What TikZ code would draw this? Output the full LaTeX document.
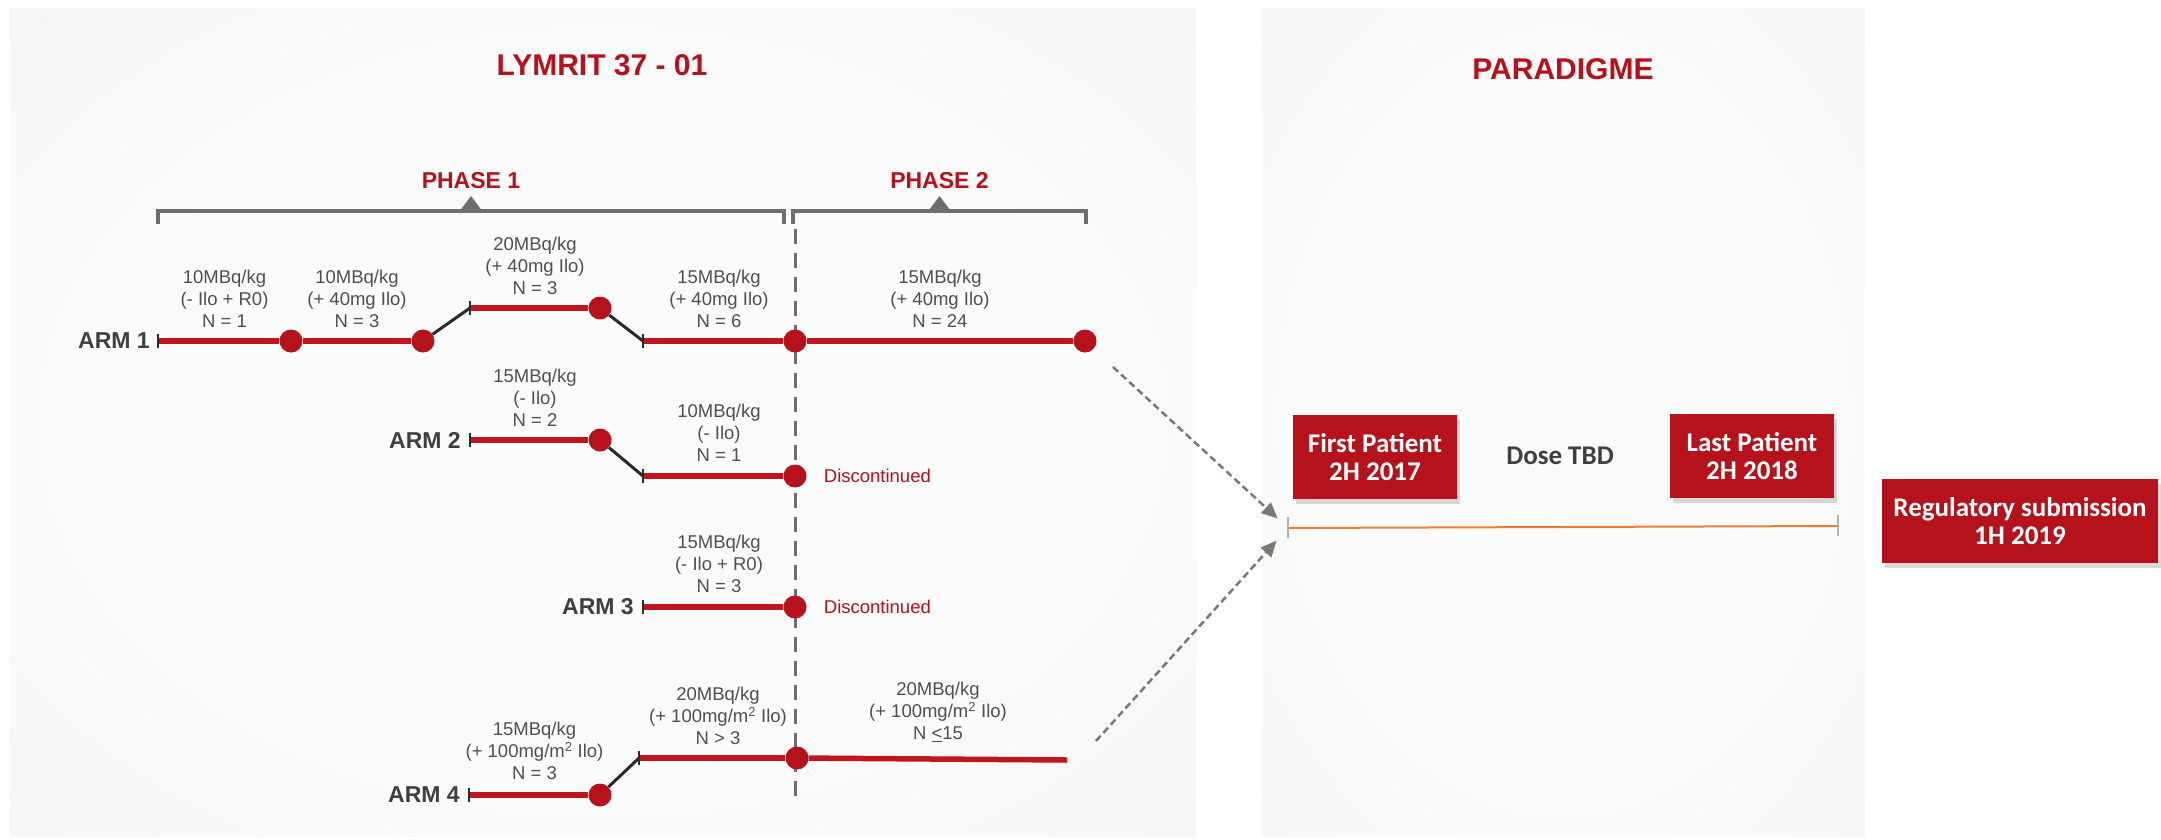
\documentclass[tikz,border=0pt]{standalone}
\usepackage{fontspec}
\setmainfont{Liberation Sans}
\newfontfamily\calfont{Carlito}
\usetikzlibrary{arrows.meta,positioning,calc,shadows,backgrounds}

\definecolor{lyRed}{HTML}{B5121B}
\definecolor{lineRed}{HTML}{C0151E}
\definecolor{txtGrey}{HTML}{4F4F4F}
\definecolor{armGrey}{HTML}{3F3F3F}
\definecolor{brGrey}{HTML}{6E6E6E}
\definecolor{jumpGrey}{HTML}{2A2A2A}
\definecolor{arrGrey}{HTML}{7D7872}
\definecolor{tlOrange}{HTML}{ED7D31}
\definecolor{panelIn}{HTML}{FCFCFC}
\definecolor{panelMid}{HTML}{F4F4F4}
\definecolor{panelOut}{HTML}{E9E9E9}
\pgfdeclareradialshading{panelglow}{\pgfpoint{0bp}{0bp}}{%
  color(0bp)=(panelIn); color(20bp)=(panelIn); color(40bp)=(panelMid);
  color(50bp)=(panelOut); color(75bp)=(panelOut)}

\begin{document}
\begin{tikzpicture}[
  x=1pt, y=-1pt,
  every node/.style={inner sep=0pt, anchor=center},
  panel/.style={shading=panelglow},
  dot/.style={circle, fill=lyRed, minimum size=23pt, inner sep=0pt},
  armline/.style={draw=lineRed, line width=5.5pt},
  jump/.style={draw=jumpGrey, line width=3pt},
  tickline/.style={draw=jumpGrey, line width=1.5pt},
  dose/.style={font=\fontsize{18.5}{22}\selectfont, text=txtGrey, align=center},
  armlbl/.style={font=\fontsize{23}{26}\selectfont\bfseries, text=armGrey},
  phaselbl/.style={font=\fontsize{23}{26}\selectfont\bfseries, text=lyRed},
  title/.style={font=\fontsize{30}{34}\selectfont\bfseries, text=lyRed},
  stopped/.style={font=\fontsize{18.5}{22}\selectfont, text=lyRed},
  bracket/.style={draw=brGrey, line width=3.5pt},
  divider/.style={draw=brGrey, line width=3pt, dash pattern=on 15pt off 9pt},
  flowarrow/.style={draw=arrGrey, line width=2.5pt, dash pattern=on 7pt off 4pt,
    -{Triangle[length=16pt, width=14pt]}},
  milestone/.style={fill=lyRed, text=white, align=center,
    font=\calfont\bfseries\fontsize{27}{28}\selectfont,
    drop shadow={shadow xshift=3pt, shadow yshift=-5pt, opacity=0.3}}
]
  \useasboundingbox (0,0) rectangle (2161,839);

  % --- Panels ---
  \begin{pgfonlayer}{background}
    \shade[panel] (10,8) rectangle (1196,836);
    \shade[panel] (1262,8) rectangle (1865,836);
    \coordinate (divTop) at (795,229);
    \coordinate (divBot) at (795,798);
    \draw[divider] (divTop) -- (divBot);
  \end{pgfonlayer}

  \node[title] (tLym) at (602,65) {LYMRIT 37 - 01};
  \node[title] (tPar) at (1563,69) {PARADIGME};

  % --- Phasen ---
  \coordinate (p1l) at (158,211);
  \coordinate (p1r) at (784,211);
  \coordinate (p2l) at (793,211);
  \coordinate (p2r) at (1086,211);
  \foreach \a/\b/\t in {p1l/p1r/PHASE 1, p2l/p2r/PHASE 2}{
    \draw[bracket] ($(\a)+(0,13)$) -- (\a) -- (\b) -- ($(\b)+(0,13)$);
    \fill[brGrey] ($(\a)!0.5!(\b)+(-12,1)$) -- ++(12,-16) -- ++(12,16) -- cycle;
    \node[phaselbl, above=7pt] at ($(\a)!0.5!(\b)+(0,-15)$) {\t};
  }

  % --- Arm 1 ---
  \coordinate (a1s) at (158,341);
  \node[dot] (a1c1) at (291,341) {};
  \node[dot] (a1c2) at (423,341) {};
  \coordinate (a1u) at (470,308);
  \node[dot] (a1c3) at (600,308) {};
  \coordinate (a1d) at (643,341);
  \node[dot] (a1c4) at (795,341) {};
  \node[dot] (a1c5) at (1085,341) {};
  \draw[armline] (a1s) -- (a1c1);
  \draw[armline] (a1c1) -- (a1c2);
  \draw[jump] (a1c2) -- (a1u);
  \draw[armline] (a1u) -- (a1c3);
  \draw[jump] (a1c3) -- (a1d);
  \draw[armline] (a1d) -- (a1c4);
  \draw[armline] (a1c4) -- (a1c5);
  \node[armlbl, left=8pt of a1s] (arm1) {ARM 1};
  \path (a1s) -- node[dose, above=13pt] {10MBq/kg\\(- Ilo + R0)\\N = 1} (a1c1.center);
  \path (a1c1.center) -- node[dose, above=13pt] {10MBq/kg\\(+ 40mg Ilo)\\N = 3} (a1c2.center);
  \path (a1u) -- node[dose, above=13pt] {20MBq/kg\\(+ 40mg Ilo)\\N = 3} (a1c3.center);
  \path (a1d) -- node[dose, above=13pt] {15MBq/kg\\(+ 40mg Ilo)\\N = 6} (a1c4.center);
  \path (a1c4.center) -- node[dose, above=13pt] {15MBq/kg\\(+ 40mg Ilo)\\N = 24} (a1c5.center);

  % --- Arm 2 ---
  \coordinate (a2s) at (470,440);
  \node[dot] (a2c1) at (600,440) {};
  \coordinate (a2d) at (643,476);
  \node[dot] (a2c2) at (795,476) {};
  \draw[armline] (a2s) -- (a2c1);
  \draw[jump] (a2c1) -- (a2d);
  \draw[armline] (a2d) -- (a2c2);
  \node[armlbl, left=9pt of a2s] (arm2) {ARM 2};
  \node[stopped, right=17pt of a2c2] (stop2) {Discontinued};
  \path (a2s) -- node[dose, above=13pt] {15MBq/kg\\(- Ilo)\\N = 2} (a2c1.center);
  \path (a2d) -- node[dose, above=14pt] {10MBq/kg\\(- Ilo)\\N = 1} (a2c2.center);

  % --- Arm 3 ---
  \coordinate (a3s) at (643,607);
  \node[dot] (a3c1) at (795,607) {};
  \draw[armline] (a3s) -- (a3c1);
  \node[armlbl, left=9pt of a3s] (arm3) {ARM 3};
  \node[stopped, right=17pt of a3c1] (stop3) {Discontinued};
  \path (a3s) -- node[dose, above=14pt] {15MBq/kg\\(- Ilo + R0)\\N = 3} (a3c1.center);

  % --- Arm 4 ---
  \coordinate (a4s) at (469,795);
  \node[dot] (a4c1) at (600,795) {};
  \coordinate (a4u) at (639,758);
  \node[dot] (a4c2) at (797,758) {};
  \coordinate (a4e) at (1067,760);
  \draw[armline] (a4s) -- (a4c1);
  \draw[jump] (a4c1) -- (a4u);
  \draw[armline] (a4u) -- (a4c2);
  \draw[armline] (a4c2) -- (a4e);
  \node[armlbl, left=9pt of a4s] (arm4) {ARM 4};
  \path (a4s) -- node[dose, above=15pt] {15MBq/kg\\(+ 100mg/m\textsuperscript{2} Ilo)\\N = 3} (a4c1.center);
  \path (a4u) -- node[dose, above=13pt] {20MBq/kg\\(+ 100mg/m\textsuperscript{2} Ilo)\\N > 3} (a4c2.center);
  \path (a4c2.center) -- node[dose, above=17pt, xshift=6pt] {20MBq/kg\\(+ 100mg/m\textsuperscript{2} Ilo)\\N \underline{<}15} (a4e);

  % Startmarken
  \foreach \t in {a1s,a1u,a1d,a2s,a2d,a3s,a4s,a4u}
    \draw[tickline] ($(\t)+(0,-7)$) -- ($(\t)+(0,7)$);

  % --- Paradigme ---
  \coordinate (fpTick) at (1288,528);
  \coordinate (lpTick) at (1838,526);
  \draw[tlOrange, line width=2pt] (fpTick) -- (lpTick);
  \foreach \t in {fpTick,lpTick}
    \draw[black!30, line width=1.5pt] ($(\t)+(0,-11)$) -- ($(\t)+(0,10)$);

  \coordinate (arrA) at (1113,367);
  \coordinate (arrB) at (1096,741);
  \draw[flowarrow, shorten >=14pt] (arrA) -- (fpTick);
  \draw[flowarrow, shorten >=17pt] (arrB) -- (fpTick);

  \node[milestone, minimum width=164pt, minimum height=84pt] (fp) at (1375,457) {First Patient\\2H 2017};
  \node[milestone, minimum width=164pt, minimum height=84pt] (lp) at (1752,456) {Last Patient\\2H 2018};
  \node[font=\calfont\bfseries\fontsize{27}{30}\selectfont, text=armGrey] (tbd) at (1560,456) {Dose TBD};
  \node[milestone, minimum width=276pt, minimum height=84pt] (reg) at (2020,521) {Regulatory submission\\1H 2019};
\end{tikzpicture}
\end{document}
